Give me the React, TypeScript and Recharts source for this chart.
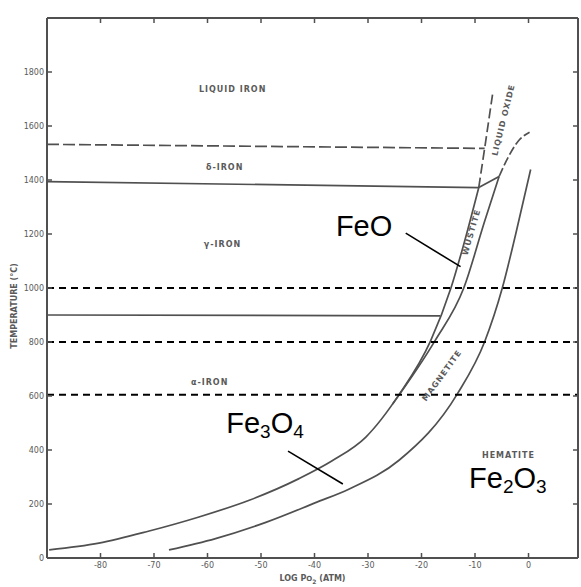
import { Label, Line, LineChart, ReferenceDot, ReferenceLine, XAxis, YAxis } from "recharts";

// Fe–O stability diagram: temperature vs log pO2

const xTicks = [-80, -70, -60, -50, -40, -30, -20, -10, 0];
const yTicks = [0, 200, 400, 600, 800, 1000, 1200, 1400, 1600, 1800];

// iron / oxide boundary (Fe/Fe3O4 below the triple point, Fe/FeO above)
const ironOxide = [
  { x: -89.6, y: 30 },
  { x: -80.3, y: 55 },
  { x: -70.9, y: 100 },
  { x: -61.6, y: 152 },
  { x: -52.2, y: 214 },
  { x: -42.9, y: 294 },
  { x: -36.7, y: 360 },
  { x: -30.4, y: 448 },
  { x: -24.2, y: 605 },
  { x: -18.3, y: 804 },
  { x: -14.5, y: 1000 },
  { x: -12.2, y: 1155 },
  { x: -9.3, y: 1372 },
];

const wustiteMagnetite = [
  { x: -25.4, y: 570 },
  { x: -17.5, y: 804 },
  { x: -12.1, y: 1000 },
  { x: -8.2, y: 1247 },
  { x: -5.5, y: 1413 },
];

const magnetiteHematite = [
  { x: -67.2, y: 30 },
  { x: -58.5, y: 72 },
  { x: -49.1, y: 132 },
  { x: -39.8, y: 205 },
  { x: -33.6, y: 255 },
  { x: -24.2, y: 362 },
  { x: -13.3, y: 608 },
  { x: -8.2, y: 801 },
  { x: -4.9, y: 1000 },
  { x: -2.4, y: 1199 },
  { x: 0.4, y: 1439 },
];

const liquidIronEdge = [
  { x: -9.3, y: 1372 },
  { x: -8.2, y: 1517 },
  { x: -6.7, y: 1720 },
];

const wustiteSolidus = [
  { x: -9.3, y: 1372 },
  { x: -5.5, y: 1413 },
];

const liquidOxideEdge = [
  { x: -5.5, y: 1413 },
  { x: -4.2, y: 1469 },
  { x: -1.7, y: 1549 },
  { x: 0.2, y: 1577 },
];

const meltLine = [
  { x: -90, y: 1532 },
  { x: -8.2, y: 1517 },
];

const gammaDeltaLine = [
  { x: -90, y: 1394 },
  { x: -9.3, y: 1372 },
];

const alphaGammaLine = [
  { x: -90, y: 900 },
  { x: -16.5, y: 897 },
];

const guideTemps = [1000, 800, 605];

const phaseLabels = [
  { text: "LIQUID IRON", x: -61.6, y: 1726, angle: 0 },
  { text: "δ-IRON", x: -60.3, y: 1437, angle: 0 },
  { text: "γ-IRON", x: -60.7, y: 1152, angle: 0 },
  { text: "α-IRON", x: -63.1, y: 641, angle: 0 },
  { text: "WUSTITE", x: -10.2, y: 1204, angle: -74 },
  { text: "LIQUID  OXIDE", x: -4.2, y: 1620, angle: -76 },
  { text: "MAGNETITE", x: -15.8, y: 670, angle: -54 },
  { text: "HEMATITE", x: -8.7, y: 370, angle: 0 },
];

const formulas = [
  { parts: ["FeO"], x: -36.0, y: 1193 },
  { parts: ["Fe", "3", "O", "4"], x: -56.5, y: 463 },
  { parts: ["Fe", "2", "O", "3"], x: -11.1, y: 259 },
];

const leaders = [
  [{ x: -22.95, y: 1203 }, { x: -12.7, y: 1079 }],
  [{ x: -44.95, y: 396 }, { x: -34.7, y: 274 }],
];

const scanGray = "#505050";
const textGray = "#5a5a5a";

const BottomTick = ({ x, y, payload }: any) => (
  <g>
    <line x1={x} x2={x} y1={y} y2={y - 5} stroke={scanGray} strokeWidth={1.5} />
    <text x={x} y={y + 10} textAnchor="middle" fontSize={8} fill={textGray} fontFamily="DejaVu Sans">
      {payload.value}
    </text>
  </g>
);

const TopTick = ({ x, y }: any) => (
  <line x1={x} x2={x} y1={y} y2={y + 5} stroke={scanGray} strokeWidth={1.5} />
);

const LeftTick = ({ x, y, payload }: any) => (
  <g>
    <line x1={x} x2={x + 5} y1={y} y2={y} stroke={scanGray} strokeWidth={1.5} />
    <text x={x - 3} y={y + 3} textAnchor="end" fontSize={8} fill={textGray} fontFamily="DejaVu Sans">
      {payload.value}
    </text>
  </g>
);

const RightTick = ({ x, y }: any) => (
  <line x1={x} x2={x - 5} y1={y} y2={y} stroke={scanGray} strokeWidth={1.5} />
);

const phaseText = (text: string, angle: number) => (p: any) => (
  <text
    x={p.cx}
    y={p.cy}
    textAnchor={angle ? "middle" : "start"}
    transform={angle ? `rotate(${angle} ${p.cx} ${p.cy})` : undefined}
    fontSize={8}
    fontWeight="bold"
    letterSpacing={1}
    fill={textGray}
    fontFamily="DejaVu Sans"
  >
    {text}
  </text>
);

const formulaText = (parts: string[]) => (p: any) => (
  <text x={p.cx} y={p.cy} fontSize={29} fill="#000" fontFamily="Liberation Sans">
    {parts.map((s, i) =>
      i % 2 === 1 ? (
        <tspan key={i} fontSize={19} dy={5}>
          {s}
        </tspan>
      ) : (
        <tspan key={i} dy={i > 0 ? -5 : 0}>
          {s}
        </tspan>
      )
    )}
  </text>
);

const YTitle = ({ viewBox }: any) => (
  <text
    x={viewBox.x + 10}
    y={306}
    transform={`rotate(-90 ${viewBox.x + 10} 306)`}
    textAnchor="middle"
    fontSize={8}
    fill={textGray}
    fontFamily="DejaVu Sans"
    fontWeight="bold"
  >
    TEMPERATURE (°C)
  </text>
);

const XTitle = ({ viewBox }: any) => (
  <text
    x={viewBox.x + viewBox.width / 2}
    y={viewBox.y + 23}
    textAnchor="middle"
    fontSize={8}
    fill={textGray}
    fontFamily="DejaVu Sans"
    fontWeight="bold"
  >
    LOG  P
    <tspan fontSize={7}>O</tspan>
    <tspan fontSize={6} dy={3}>2</tspan>
    <tspan dy={-3}>{"  (ATM)"}</tspan>
  </text>
);

const series = (data: { x: number; y: number }[], dash?: string, curve = true) => (
  <Line
    data={data}
    dataKey="y"
    xAxisId="b"
    yAxisId="l"
    type={curve ? "monotone" : "linear"}
    stroke={scanGray}
    strokeWidth={1.7}
    strokeDasharray={dash}
    dot={false}
    activeDot={false}
    isAnimationActive={false}
  />
);

export default function App() {
  return (
    <div style={{ width: 581, height: 587, background: "#fff" }}>
      <style>{"body{margin:0}"}</style>
      <LineChart width={581} height={587} margin={{ top: 17, right: 2, bottom: 9, left: 7 }}>
        <XAxis
          xAxisId="b"
          type="number"
          dataKey="x"
          domain={[-90, 9.25]}
          ticks={xTicks}
          allowDataOverflow
          height={20}
          tickSize={0}
          tickMargin={0}
          tick={<BottomTick />}
          axisLine={{ stroke: scanGray, strokeWidth: 2 }}
          tickLine={false}
        >
          <Label content={<XTitle />} />
        </XAxis>
        <XAxis
          xAxisId="t"
          orientation="top"
          type="number"
          dataKey="x"
          domain={[-90, 9.25]}
          ticks={xTicks}
          allowDataOverflow
          height={1}
          tickSize={0}
          tickMargin={0}
          tick={<TopTick />}
          axisLine={{ stroke: scanGray, strokeWidth: 2 }}
          tickLine={false}
        />
        <YAxis
          yAxisId="l"
          type="number"
          domain={[0, 2000]}
          ticks={yTicks}
          allowDataOverflow
          width={40}
          tickSize={0}
          tickMargin={0}
          tick={<LeftTick />}
          axisLine={{ stroke: scanGray, strokeWidth: 2 }}
          tickLine={false}
        >
          <Label content={<YTitle />} />
        </YAxis>
        <YAxis
          yAxisId="r"
          orientation="right"
          type="number"
          domain={[0, 2000]}
          ticks={yTicks}
          allowDataOverflow
          width={1}
          tickSize={0}
          tickMargin={0}
          tick={<RightTick />}
          axisLine={{ stroke: scanGray, strokeWidth: 2 }}
          tickLine={false}
        />

        {series(meltLine, "12 4", false)}
        {series(gammaDeltaLine, undefined, false)}
        {series(alphaGammaLine, undefined, false)}
        {series(ironOxide)}
        {series(wustiteMagnetite)}
        {series(magnetiteHematite)}
        {series(liquidIronEdge, "10 4", false)}
        {series(wustiteSolidus, undefined, false)}
        {series(liquidOxideEdge, "9 3")}

        {guideTemps.map((t) => (
          <ReferenceLine
            key={t}
            xAxisId="b"
            yAxisId="l"
            y={t}
            stroke="#000"
            strokeWidth={2}
            strokeDasharray="7 5"
          />
        ))}

        {leaders.map((seg, i) => (
          <ReferenceLine
            key={`lead-${i}`}
            xAxisId="b"
            yAxisId="l"
            segment={seg}
            stroke="#000"
            strokeWidth={1.6}
          />
        ))}

        {phaseLabels.map((l) => (
          <ReferenceDot
            key={l.text}
            xAxisId="b"
            yAxisId="l"
            x={l.x}
            y={l.y}
            r={1}
            shape={phaseText(l.text, l.angle)}
          />
        ))}

        {formulas.map((f) => (
          <ReferenceDot
            key={f.parts.join("")}
            xAxisId="b"
            yAxisId="l"
            x={f.x}
            y={f.y}
            r={1}
            shape={formulaText(f.parts)}
          />
        ))}
      </LineChart>
    </div>
  );
}
